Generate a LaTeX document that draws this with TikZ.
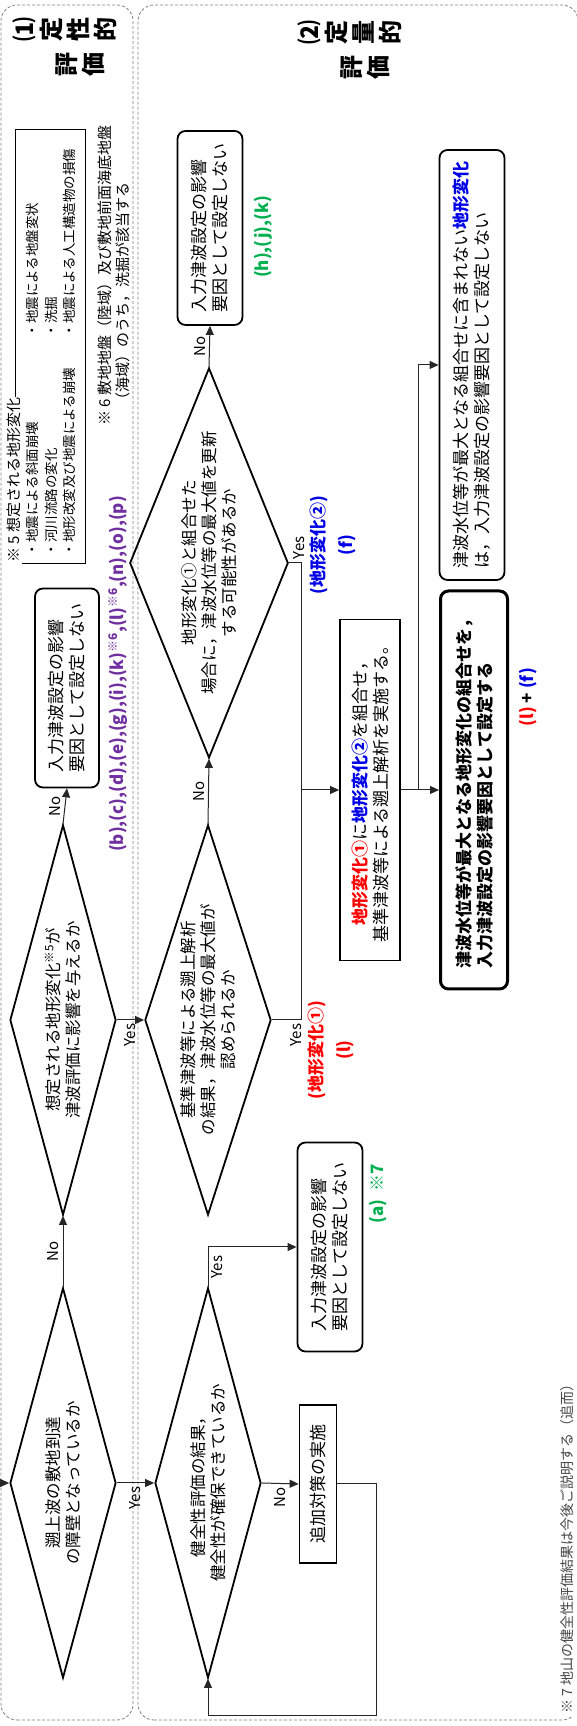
\documentclass[tikz,border=0pt]{standalone}
\usepackage{fontspec}
\setmainfont{Noto Sans CJK JP}
\usetikzlibrary{arrows.meta,shapes.geometric}
\definecolor{chgred}{RGB}{255,0,0}
\definecolor{chgblue}{RGB}{0,0,230}
\definecolor{refgreen}{RGB}{0,176,80}
\definecolor{refpurple}{RGB}{112,48,160}
\definecolor{notegray}{RGB}{70,70,70}

\begin{document}
\begin{tikzpicture}[x=1pt, y=1pt, >={Triangle[length=9pt,width=8pt]},
  dia/.style={draw, line width=1.8pt, diamond, minimum width=390pt, minimum height=106pt, inner sep=-40pt, align=center, font=\fontsize{16.5}{20}\selectfont},
  endbox/.style={draw, line width=1.8pt, rounded corners=8pt, align=left, font=\fontsize{17}{21}\selectfont},
  act/.style={draw, line width=1.8pt, align=center, font=\fontsize{17}{21}\selectfont},
  yn/.style={font=\fontsize{15}{15}\selectfont},
  lab/.style={align=center, font=\fontsize{17}{20}\selectfont\bfseries},
  note/.style={align=left, font=\fontsize{15}{18.5}\selectfont},
  ttl/.style={align=center, font=\fontsize{24}{27}\selectfont\bfseries},
  region/.style={draw=gray, dash pattern=on 3pt off 2pt, line width=0.8pt, rounded corners=16pt},
  conn/.style={line width=1pt, draw=black!85}]
\begin{scope}[rotate=90, transform shape]
\useasboundingbox (0,0) rectangle (1726,-577);
% the two evaluation bands
\draw[region] (6,-1) rectangle (1721,-133);
\draw[region] (6,-138) rectangle (1721,-578);
\node[ttl] (ttl1a) at (1696,-65) {⑴\\定\\性\\的};
\node[ttl] (ttl1b) at (1661,-80) {評\\価};
\node[ttl] (ttl2a) at (1693,-350) {⑵\\定\\量\\的};
\node[ttl] (ttl2b) at (1658,-365) {評\\価};

% decisions
\node[dia] (reach) at (243,-63) {遡上波の敷地到達\\の障壁となっているか};
\node[dia] (shape) at (706,-63) {想定される地形変化\textsuperscript{※5}が\\津波評価に影響を与えるか};
\node[dia] (sound) at (243,-208) {健全性評価の結果，\\健全性が確保できているか};
\node[dia] (maxv) at (706,-208) {基準津波等による遡上解析\\の結果，津波水位等の最大値が\\認められるか};
\node[dia] (renew) at (1163,-209) {地形変化①と組合せた\\場合に，津波水位等の最大値を更新\\する可能性があるか};

% results
\node[endbox, minimum width=199pt, minimum height=64pt] (noeff1) at (1038,-67) {入力津波設定の影響\\要因として設定しない};
\node[endbox, minimum width=194pt, minimum height=65pt] (noeff2) at (1498,-210) {入力津波設定の影響\\要因として設定しない};
\node[endbox, minimum width=209pt, minimum height=65pt] (noeff3) at (479,-330) {入力津波設定の影響\\要因として設定しない};
\node[act, minimum width=158pt, minimum height=37pt] (addm) at (242,-318) {追加対策の実施};
\node[act, minimum width=341pt, minimum height=60pt] (combo) at (936,-370) {{\bfseries\color{chgred}地形変化①}に{\bfseries\color{chgblue}地形変化②}を組合せ，\\基準津波等による遡上解析を実施する。};
\node[endbox, line width=3pt, minimum width=398pt, minimum height=67pt, font=\fontsize{17}{21}\selectfont\bfseries] (setf) at (936,-474) {津波水位等が最大となる地形変化の組合せを，\\入力津波設定の影響要因として設定する};
\node[endbox, minimum width=430pt, minimum height=65pt] (notset) at (1361,-472) {津波水位等が最大となる組合せに含まれない{\bfseries\color{chgblue}地形変化}\\は，入力津波設定の影響要因として設定しない};

% connectors
\coordinate (entry) at (243,0);
\coordinate (loop) at (10,-376);
\coordinate (merge) at (936,-301);
\coordinate (split) at (936,-418);
\draw[conn, ->] (entry) -- (reach.north);
\draw[conn, ->] (reach.east) -- node[yn, above]{No} (shape.west);
\draw[conn, ->] (shape.east) -- node[yn, above]{No} (noeff1.west);
\draw[conn, ->] (reach.south) -- node[yn, left]{Yes} (sound.north);
\draw[conn, ->] (shape.south) -- node[yn, left]{Yes} (maxv.north);
\draw[conn, ->] (sound.east) -| node[yn, below, pos=0.25]{Yes} (noeff3.north);
\draw[conn, ->] (sound.south) -- node[yn, left]{No} (addm.north);
\draw[conn, ->] (addm.south) |- (loop) |- (sound.west);
\draw[conn, ->] (maxv.east) -- node[yn, above]{No} (renew.west);
\draw[conn, ->] (renew.east) -- node[yn, above]{No} (noeff2.west);
\draw[conn] (maxv.south) |- node[yn, left, pos=0.42]{Yes} (merge);
\draw[conn] (renew.south) |- node[yn, right, pos=0.42]{Yes} (merge);
\draw[conn, ->] (merge) -- (combo.north);
\draw[conn, ->] (combo.south) -- (setf.north);
\draw[conn, ->] (split) -| (notset.north);

% case labels
\node[lab, text=refpurple] (cases1) at (1052,-118) {(b),(c),(d),(e),(g),(i),(k)\textsuperscript{※6},(l)\textsuperscript{※6},(n),(o),(p)};
\node[lab, text=refgreen] (cases2) at (1489,-263) {(h),(j),(k)};
\node[lab, text=refgreen] (cases3) at (532,-378) {(a)\ \ ※7};
\node[lab, text=chgred] (chg1) at (676,-331) {(地形変化①)\\[8pt](l)};
\node[lab, text=chgblue] (chg2) at (1181,-333) {(地形変化②)\\[8pt](f)};
\node[lab] (sumlf) at (1029,-528) {{\color{chgred}(l)} + {\color{chgblue}(f)}};

% notes
\node[draw, line width=0.8pt, minimum width=434pt, minimum height=70pt] (notebox) at (1380,-50) {};
\node[note, fill=white, anchor=west, inner sep=1pt] (notettl) at (1162,-14) {※ 5 想定される地形変化};
\node[note, anchor=west, font=\fontsize{13.5}{18.5}\selectfont] (notel) at (1166,-51) {・地震による斜面崩壊\\・河川流路の変化\\・地形改変及び地震による崩壊};
\node[note, anchor=west, font=\fontsize{13.5}{18.5}\selectfont] (noter) at (1385,-51) {・地震による地盤変状\\・洗掘\\・地震による人工構造物の損傷};
\node[note, anchor=west] (note6) at (1297,-114) {※ 6 敷地地盤（陸域）及び敷地前面海底地盤\\\hspace*{18pt}（海域）のうち，洗掘が該当する};
\node[note, anchor=west, fill=white, text=notegray, font=\fontsize{14}{16}\selectfont] (note7) at (9,-567) {※ 7 地山の健全性評価結果は今後ご説明する（追而）};
\end{scope}
\end{tikzpicture}
\end{document}
